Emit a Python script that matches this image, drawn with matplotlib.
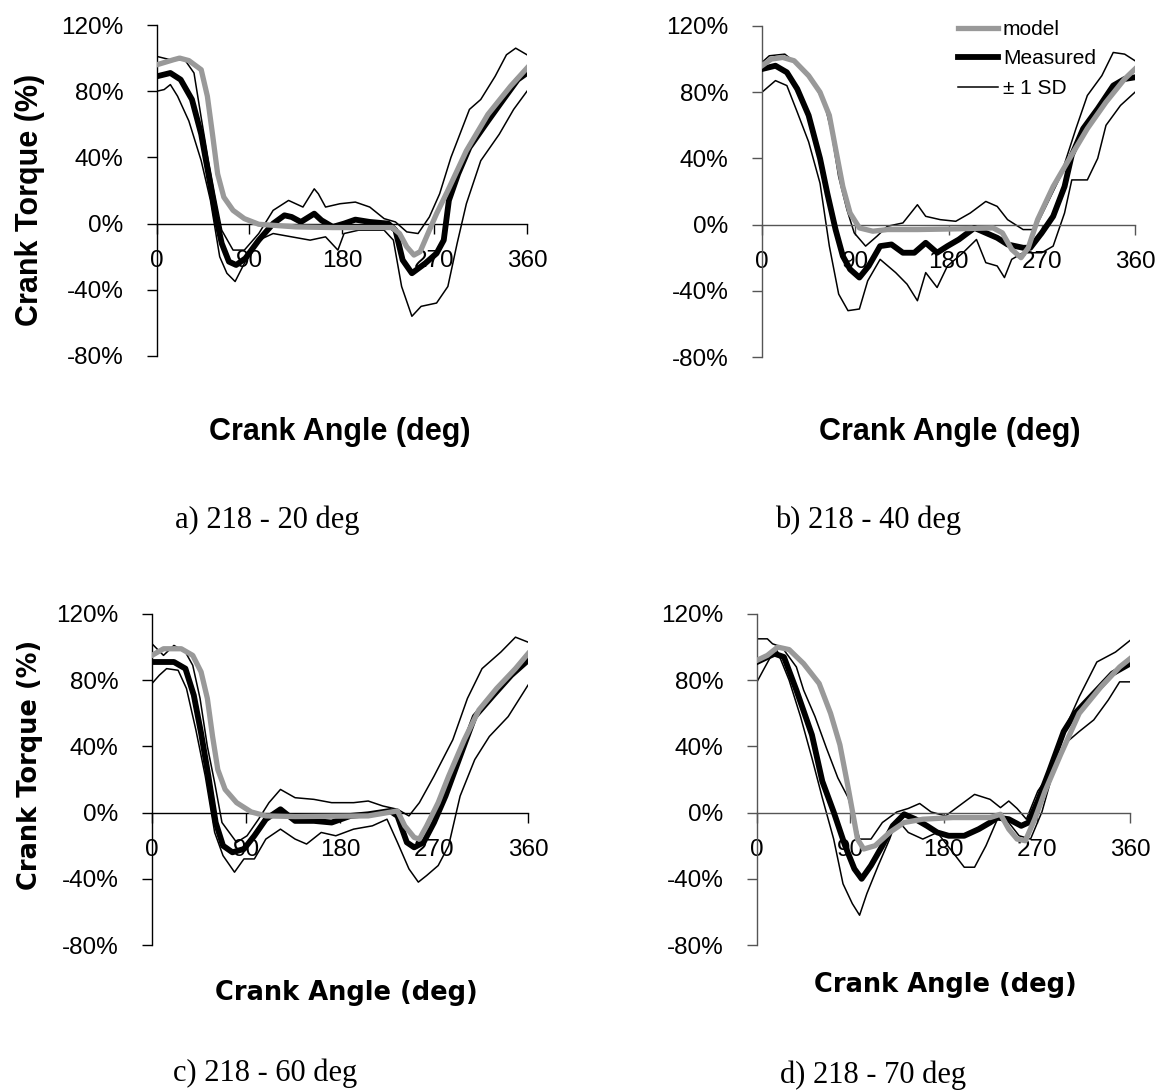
import matplotlib
matplotlib.use("Agg")
import matplotlib.pyplot as plt
from matplotlib.lines import Line2D

# ---- data (crank angle in deg, torque in %) ----
# panel a) 218 - 20 deg
a_model_x = [0, 16, 22, 31, 43, 49, 54, 59, 65, 74, 85, 99, 135, 171, 207, 229, 236, 243, 250, 256, 265, 272, 283, 301, 322, 344, 360]
a_model_y = [96, 99, 100, 98.5, 93, 77, 54, 30, 16, 8, 3, -0.4, -2, -2.4, -2.4, -2.4, -6, -14, -19, -17, -4, 6, 20, 44, 66, 83, 94]
a_meas_x = [0, 13, 23, 34, 43, 50, 58, 63, 70, 77, 86, 99, 113, 124, 131, 140, 153, 160, 171, 182, 193, 207, 225, 232, 239, 248, 261, 272, 279, 284, 293, 304, 322, 337, 351, 360]
a_meas_y = [89, 91, 87, 75, 54, 30, 2, -12, -23, -25, -21, -10, 0, 5, 4, 1, 6, 2, -2, 0, 2.4, 1, 0, -4, -22, -30, -24, -18, -10, 14, 30, 46, 62, 75, 87, 91]
a_hi_x = [0, 13, 27, 36, 43, 50, 56, 63, 74, 85, 99, 113, 128, 142, 153, 157, 164, 178, 193, 207, 221, 232, 243, 254, 265, 275, 286, 304, 315, 329, 340, 349, 360]
a_hi_y = [101, 99, 99, 91, 64, 38, 18, -4, -16, -16, -6, 8, 14, 10, 21, 18, 10, 12, 13, 10, 3, 1, -5, -6, 4, 18, 40, 69, 75, 89, 102, 106, 102]
a_lo_x = [0, 7, 13, 20, 31, 43, 52, 61, 68, 76, 85, 99, 113, 131, 149, 164, 176, 182, 196, 221, 230, 238, 248, 257, 272, 283, 292, 301, 315, 333, 347, 360]
a_lo_y = [80, 81, 84, 77, 62, 38, 14, -20, -30, -35, -24, -10, -6, -8, -10, -8, -16, -6, -4, -4, -10, -38, -56, -50, -48, -38, -12, 12, 38, 54, 69, 80]

# panel b) 218 - 40 deg
b_model_x = [0, 9, 20, 31, 45, 56, 65, 71, 78, 85, 94, 107, 121, 150, 187, 223, 232, 241, 250, 257, 266, 281, 295, 314, 332, 350, 360]
b_model_y = [96, 100, 101, 99, 90, 80, 66, 46, 23, 7, -2, -4, -3, -3, -2.6, -2, -5, -15, -20, -14, 3, 23, 38, 58, 74, 88, 94]
b_meas_x = [0, 13, 24, 34, 45, 56, 63, 71, 78, 85, 94, 103, 114, 125, 136, 147, 158, 169, 179, 190, 205, 216, 227, 237, 252, 259, 270, 281, 292, 299, 310, 324, 339, 350, 360]
b_meas_y = [94, 96, 92, 82, 66, 40, 19, -3, -19, -27, -32, -25, -13, -12, -17, -17, -11, -17, -13, -9, -2, -5, -8, -12, -14, -14, -5, 5, 23, 42, 58, 70, 84, 88, 89]
b_hi_x = [0, 7, 22, 34, 49, 60, 67, 74, 82, 89, 100, 111, 121, 136, 150, 158, 172, 187, 201, 216, 227, 237, 252, 263, 274, 288, 303, 314, 328, 339, 350, 360]
b_hi_y = [98, 102, 103, 97, 86, 74, 56, 29, 9, -5, -13, -7, -1, 1, 12, 5, 3, 2, 7, 14, 11, 3, -3, -3, 11, 29, 58, 78, 90, 104, 103, 99]
b_lo_x = [0, 13, 24, 34, 45, 56, 65, 74, 83, 94, 102, 114, 129, 140, 150, 158, 169, 179, 194, 207, 216, 227, 234, 241, 252, 270, 281, 292, 299, 314, 324, 332, 346, 360]
b_lo_y = [80, 87, 84, 68, 50, 25, -13, -42, -52, -51, -34, -21, -29, -36, -46, -29, -38, -25, -17, -9, -23, -25, -32, -21, -17, -17, -13, 7, 27, 27, 40, 60, 72, 80]

# panel c) 218 - 60 deg
c_model_x = [0, 11, 28, 39, 47, 53, 58, 63, 70, 81, 95, 109, 137, 207, 235, 242, 251, 256, 263, 274, 284, 299, 313, 330, 348, 360]
c_model_y = [95, 99, 99, 95, 85, 69, 46, 26, 14, 6, 0.4, -2, -2.4, -2, 1, -8, -15, -16, -8, 6, 22, 44, 62, 75, 87, 96]
c_meas_x = [0, 21, 32, 40, 47, 54, 61, 68, 77, 88, 98, 109, 123, 137, 155, 172, 190, 207, 228, 235, 244, 251, 260, 270, 281, 295, 309, 327, 344, 360]
c_meas_y = [91, 91, 87, 71, 48, 22, -6, -20, -24, -22, -14, -4, 2, -5, -5, -6, -2, -1, 1, -2, -18, -21, -18, -6, 10, 34, 58, 71, 83, 92]
c_hi_x = [0, 11, 21, 32, 39, 46, 53, 60, 67, 81, 91, 102, 112, 123, 137, 155, 172, 193, 207, 221, 235, 246, 256, 270, 288, 302, 316, 334, 348, 360]
c_hi_y = [102, 95, 101, 97, 89, 69, 40, 18, -6, -18, -14, -4, 6, 14, 9, 8, 6, 6, 7, 4, 2, -2, 6, 22, 44, 69, 87, 97, 106, 103]
c_lo_x = [0, 7, 14, 25, 33, 42, 51, 60, 68, 79, 88, 98, 109, 123, 137, 148, 162, 176, 193, 211, 225, 235, 246, 255, 263, 274, 284, 295, 309, 323, 341, 360]
c_lo_y = [78, 83, 87, 86, 75, 50, 22, -12, -26, -36, -28, -28, -16, -10, -16, -19, -12, -14, -10, -8, -4, -18, -34, -42, -38, -32, -20, 10, 32, 46, 58, 77]

# panel d) 218 - 70 deg
d_model_x = [0, 10, 20, 31, 45, 60, 71, 80, 88, 97, 103, 114, 128, 142, 160, 189, 225, 235, 243, 251, 259, 268, 278, 293, 311, 332, 350, 360]
d_model_y = [92, 95, 100, 98.5, 90, 78, 60, 41, 15, -16, -22, -20, -12, -6, -4, -3, -3, -1, -10, -16, -17, -4, 13, 35, 60, 76, 88, 93]
d_meas_x = [0, 10, 17, 26, 38, 53, 63, 74, 85, 94, 101, 110, 121, 131, 142, 153, 164, 174, 185, 200, 214, 225, 232, 243, 255, 262, 271, 282, 296, 307, 325, 343, 360]
d_meas_y = [91, 94, 96, 94, 74, 47, 19, 0.4, -20, -34, -40, -32, -20, -8, -1, -4, -8, -12, -14, -14, -10, -6, -3, -4, -8, -6, 7, 25, 49, 60, 72, 84, 90]
d_hi_x = [0, 10, 15, 24, 38, 45, 56, 67, 78, 88, 99, 110, 121, 135, 146, 157, 168, 182, 196, 210, 225, 235, 243, 251, 260, 271, 282, 296, 311, 328, 346, 360]
d_hi_y = [105, 105, 102, 100, 88, 74, 58, 39, 21, 9, -16, -16, -6, 0.4, 2.5, 5.5, 0.4, -2, 4.5, 11, 8, 3, 7, 2.5, -4, 13, 23, 49, 70, 91, 97, 104]
d_lo_x = [0, 6, 13, 19, 31, 42, 53, 63, 74, 83, 92, 99, 106, 117, 128, 135, 146, 160, 174, 189, 200, 210, 221, 232, 243, 253, 264, 275, 286, 296, 311, 325, 339, 350, 360]
d_lo_y = [79, 86, 94, 98.5, 80, 58, 33, 9, -16, -43, -55, -62, -49, -32, -16, -4, -12, -16, -12, -24, -33, -33, -20, -4, -6, -14, -16, 0.4, 25, 41, 49, 56, 68, 79, 79]

y_ticks = [-80, -40, 0, 40, 80, 120]
x_ticks = [0, 90, 180, 270, 360]
captions = ["a) 218 - 20 deg", "b) 218 - 40 deg", "c) 218 - 60 deg", "d) 218 - 70 deg"]

W, H = 1169, 1091
fig = plt.figure(figsize=(W / 100, H / 100), dpi=100)
SANS = "Liberation Sans"
GRAY = "#999999"


def px_rect(left, right, top, bottom):
    return [left / W, 1 - bottom / H, (right - left) / W, (bottom - top) / H]


def panel(rect, model, meas, hi, lo, axcolor):
    ax = fig.add_axes(rect)
    ax.plot(hi[0], hi[1], color="black", lw=1.1, zorder=2)
    ax.plot(lo[0], lo[1], color="black", lw=1.1, zorder=2)
    ax.plot(meas[0], meas[1], color="black", lw=4.2, zorder=3, solid_joinstyle="round")
    ax.plot(model[0], model[1], color=GRAY, lw=3.8, zorder=4, solid_joinstyle="round")
    ax.set_xlim(0, 360)
    ax.set_ylim(-80, 120)
    ax.set_yticks(y_ticks)
    ax.set_yticklabels([f"{v}%" for v in y_ticks])
    ax.set_xticks(x_ticks)
    ax.set_xticklabels([str(v) for v in x_ticks])
    ax.spines["top"].set_visible(False)
    ax.spines["right"].set_visible(False)
    ax.spines["bottom"].set_position(("data", 0))
    for s in ("left", "bottom"):
        ax.spines[s].set_color(axcolor)
        ax.spines[s].set_linewidth(1.0)
    ax.tick_params(axis="y", direction="out", length=7, width=1.0, pad=17,
                   color=axcolor, labelsize=17.5)
    ax.tick_params(axis="x", direction="out", length=7, width=1.0, pad=12,
                   color=axcolor, labelsize=17.5)
    for lab in ax.get_xticklabels() + ax.get_yticklabels():
        lab.set_fontfamily(SANS)
    ax.set_axisbelow(True)
    ax.patch.set_alpha(0)
    return ax


ax_a = panel(px_rect(157, 527, 25, 356), (a_model_x, a_model_y), (a_meas_x, a_meas_y),
             (a_hi_x, a_hi_y), (a_lo_x, a_lo_y), "black")
ax_b = panel(px_rect(762, 1135, 26, 357), (b_model_x, b_model_y), (b_meas_x, b_meas_y),
             (b_hi_x, b_hi_y), (b_lo_x, b_lo_y), "#555555")
ax_c = panel(px_rect(152, 528, 614, 945), (c_model_x, c_model_y), (c_meas_x, c_meas_y),
             (c_hi_x, c_hi_y), (c_lo_x, c_lo_y), "black")
ax_d = panel(px_rect(757, 1130, 614, 945), (d_model_x, d_model_y), (d_meas_x, d_meas_y),
             (d_hi_x, d_hi_y), (d_lo_x, d_lo_y), "#555555")

# axis titles
fig.text(30 / W, 1 - 200 / H, "Crank Torque (%)", rotation=90, ha="center", va="center",
         fontsize=22, fontweight="bold", family=SANS)
fig.text(340 / W, 1 - 432 / H, "Crank Angle (deg)", ha="center", va="center",
         fontsize=22, fontweight="bold", family=SANS)
fig.text(950 / W, 1 - 432 / H, "Crank Angle (deg)", ha="center", va="center",
         fontsize=22, fontweight="bold", family=SANS)
fig.text(30 / W, 1 - 765 / H, "Crank Torque (%)", rotation=90, ha="center", va="center",
         fontsize=18.5, fontweight="bold", family="DejaVu Sans")
fig.text(346 / W, 1 - 993 / H, "Crank Angle (deg)", ha="center", va="center",
         fontsize=18.5, fontweight="bold", family="DejaVu Sans")
fig.text(945 / W, 1 - 985 / H, "Crank Angle (deg)", ha="center", va="center",
         fontsize=18.5, fontweight="bold", family="DejaVu Sans")

# captions
for (x, y), txt in zip([(175, 520), (775, 520), (173, 1073), (780, 1075)], captions):
    fig.text(x / W, 1 - y / H, txt, ha="left", va="center", fontsize=22,
             family="Liberation Serif")

# legend in panel b
handles = [Line2D([], [], color=GRAY, lw=3.8),
           Line2D([], [], color="black", lw=4.2),
           Line2D([], [], color="black", lw=1.1)]
fig.legend(handles, ["model", "Measured", "\u00b1 1 SD"], loc="upper left",
           bbox_to_anchor=(958 / W, 1 - 20 / H), frameon=False,
           prop={"family": SANS, "size": 15}, handlelength=1.9,
           handletextpad=0.25, labelspacing=0.5, borderaxespad=0, borderpad=0)

fig.savefig("out.png", dpi=100)
